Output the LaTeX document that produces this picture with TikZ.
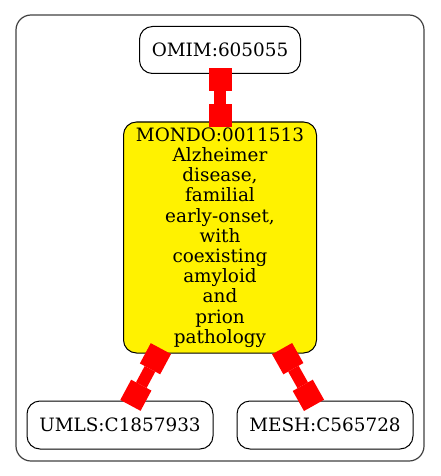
\documentclass[tikz,border=0pt]{standalone}
\usepackage{fontspec}
\setmainfont{DejaVu Serif}
\usetikzlibrary{arrows.meta}
\begin{document}
\begin{tikzpicture}[x=1pt,y=-1pt,
  gnode/.style={draw=black, line width=1pt, rounded corners=13pt, inner sep=0pt, outer sep=0pt, align=center, font=\fontsize{18.4}{20.2}\selectfont},
  sqtip/.tip={Square[length=23pt,width=23pt,line width=0pt]},
  edgeline/.style={draw=red, line width=12pt, sqtip-sqtip, shorten <=-5pt, shorten >=-5pt},
  cluster/.style={draw=black!75, line width=1.2pt, rounded corners=15pt}]
\useasboundingbox (0,0) rectangle (440,476);
\draw[cluster] (16,15) rectangle (424,461);
\node[gnode, minimum width=161pt, minimum height=47pt] (omim) at (220,50) {OMIM:605055};
\node[gnode, fill=yellow, minimum width=193pt, minimum height=231pt] (mondo) at (220,237.5) {MONDO:0011513\\Alzheimer\\disease,\\familial\\early-onset,\\with\\coexisting\\amyloid\\and\\prion\\pathology};
\node[gnode, minimum width=186pt, minimum height=48pt] (umls) at (120,425) {UMLS:C1857933};
\node[gnode, minimum width=176pt, minimum height=48pt] (mesh) at (325,425) {MESH:C565728};
\draw[edgeline] (omim) -- (mondo);
\draw[edgeline] (mondo) -- (umls);
\draw[edgeline] (mondo) -- (mesh);
\end{tikzpicture}
\end{document}
